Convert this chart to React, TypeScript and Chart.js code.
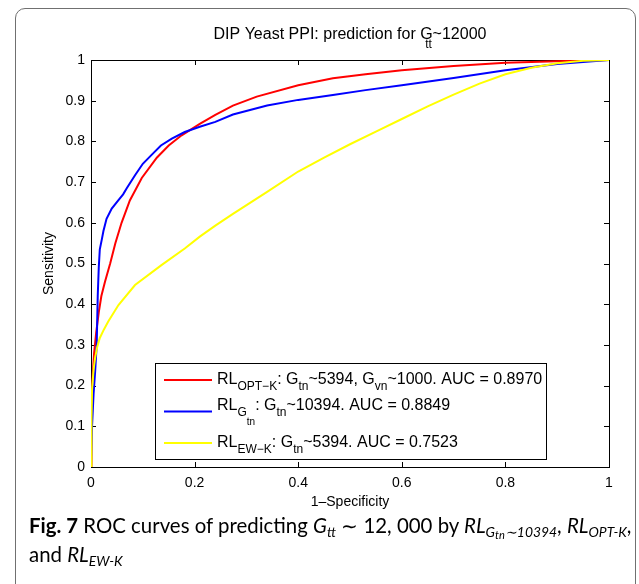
import React, { useEffect, useRef } from 'react';
import { Chart, registerables } from 'chart.js';
Chart.register(...registerables);

// ---------- data ----------
const xTicks = [0, 0.2, 0.4, 0.6, 0.8, 1];
const yTicks = [0, 0.1, 0.2, 0.3, 0.4, 0.5, 0.6, 0.7, 0.8, 0.9, 1];

const optKFpr = [0, 0.001, 0.003, 0.006, 0.01, 0.015, 0.02, 0.027, 0.037, 0.047, 0.059, 0.075, 0.098, 0.127, 0.15, 0.175, 0.21, 0.24, 0.274, 0.32, 0.4, 0.467, 0.53, 0.6, 0.7, 0.8, 0.9, 1];
const optKTpr = [0, 0.15, 0.22, 0.28, 0.33, 0.38, 0.42, 0.455, 0.5, 0.55, 0.6, 0.655, 0.71, 0.76, 0.79, 0.815, 0.843, 0.865, 0.888, 0.91, 0.938, 0.955, 0.965, 0.975, 0.985, 0.993, 0.997, 1];

const gtnFpr = [0, 0.002, 0.005, 0.008, 0.011, 0.013, 0.015, 0.017, 0.021, 0.024, 0.03, 0.04, 0.053, 0.062, 0.069, 0.085, 0.1, 0.117, 0.135, 0.156, 0.181, 0.21, 0.24, 0.274, 0.34, 0.4, 0.467, 0.53, 0.6, 0.7, 0.8, 0.9, 1];
const gtnTpr = [0, 0.1, 0.18, 0.235, 0.3, 0.42, 0.49, 0.535, 0.56, 0.58, 0.61, 0.635, 0.656, 0.67, 0.685, 0.717, 0.745, 0.767, 0.79, 0.807, 0.823, 0.836, 0.848, 0.866, 0.888, 0.902, 0.914, 0.926, 0.938, 0.956, 0.975, 0.99, 1];

const ewKFpr = [0, 0.001, 0.002, 0.005, 0.008, 0.012, 0.017, 0.025, 0.033, 0.053, 0.085, 0.136, 0.181, 0.21, 0.24, 0.274, 0.34, 0.4, 0.45, 0.5, 0.55, 0.6, 0.65, 0.7, 0.75, 0.8, 0.85, 0.9, 0.95, 1];
const ewKTpr = [0, 0.12, 0.19, 0.24, 0.268, 0.295, 0.317, 0.338, 0.357, 0.398, 0.447, 0.496, 0.537, 0.566, 0.593, 0.622, 0.676, 0.726, 0.76, 0.793, 0.824, 0.855, 0.886, 0.915, 0.942, 0.965, 0.981, 0.992, 0.998, 1];

type Seg = [string, number];
const legendRed: Seg[] = [['RL', 0], ['OPT\u2212K', 1], [': G', 0], ['tn', 1], ['~5394, G', 0], ['vn', 1], ['~1000. AUC = 0.8970', 0]];
const legendBlue: Seg[] = [['RL', 0], ['G', 1], ['tn', 2], [': G', 0], ['tn', 1], ['~10394. AUC = 0.8849', 0]];
const legendYellow: Seg[] = [['RL', 0], ['EW\u2212K', 1], [': G', 0], ['tn', 1], ['~5394. AUC = 0.7523', 0]];

const W = 639;
const H = 515;
const FONT = '"Liberation Sans", Arial, Helvetica, sans-serif';

function toPts(xs: number[], ys: number[]) {
  return xs.map((x, i) => ({ x, y: ys[i] }));
}

function drawRich(ctx: CanvasRenderingContext2D, segs: Seg[], x: number, y: number) {
  const sizes = [16, 12, 10];
  const offs = [0, 6, 15];
  let cx = x;
  for (const [t, lvl] of segs) {
    ctx.font = `${sizes[lvl]}px ${FONT}`;
    ctx.fillText(t, cx, y + offs[lvl]);
    cx += ctx.measureText(t).width;
  }
}

const matlabPlugin = {
  id: 'matlabDeco',
  beforeDatasetsDraw(chart: any) {
    const { ctx, chartArea: a, scales } = chart;
    ctx.save();
    ctx.strokeStyle = '#000';
    ctx.lineWidth = 1;
    ctx.strokeRect(Math.round(a.left) + 0.5, Math.round(a.top) + 0.5, Math.round(a.right - a.left), Math.round(a.bottom - a.top));
    const tl = 5;
    ctx.beginPath();
    for (const v of xTicks) {
      const px = Math.round(scales.x.getPixelForValue(v)) + 0.5;
      ctx.moveTo(px, a.bottom);
      ctx.lineTo(px, a.bottom - tl);
      ctx.moveTo(px, a.top);
      ctx.lineTo(px, a.top + tl);
    }
    for (const v of yTicks) {
      const py = Math.round(scales.y.getPixelForValue(v)) + 0.5;
      ctx.moveTo(a.left, py);
      ctx.lineTo(a.left + tl, py);
      ctx.moveTo(a.right, py);
      ctx.lineTo(a.right - tl, py);
    }
    ctx.stroke();
    ctx.restore();
  },
  afterDraw(chart: any) {
    const { ctx, chartArea: a } = chart;
    ctx.save();
    ctx.fillStyle = '#000';
    ctx.textBaseline = 'alphabetic';
    // title
    const cx = (a.left + a.right) / 2;
    ctx.font = `16px ${FONT}`;
    const t1 = 'DIP Yeast PPI: prediction for ';
    const t2 = 'G';
    const t3 = '~12000';
    const w1 = ctx.measureText(t1).width;
    const w2 = ctx.measureText(t2).width;
    const w3 = ctx.measureText(t3).width;
    const tx = cx - (w1 + w2 + w3) / 2;
    const ty = 38.5;
    ctx.textAlign = 'left';
    ctx.fillText(t1, tx, ty);
    ctx.fillText(t2, tx + w1, ty);
    ctx.fillText(t3, tx + w1 + w2, ty);
    ctx.font = `12px ${FONT}`;
    ctx.fillText('tt', tx + w1 + 5, ty + 9.5);

    // axis labels
    ctx.font = `14px ${FONT}`;
    ctx.textAlign = 'center';
    ctx.fillText('1\u2013Specificity', cx, 506);
    ctx.save();
    ctx.translate(53, (a.top + a.bottom) / 2);
    ctx.rotate(-Math.PI / 2);
    ctx.fillText('Sensitivity', 0, 0);
    ctx.restore();

    // legend
    const lx = 155.5, ly = 363.5, lw = 391, lh = 96;
    ctx.fillStyle = '#fff';
    ctx.fillRect(lx, ly, lw, lh);
    ctx.strokeStyle = '#000';
    ctx.lineWidth = 1;
    ctx.strokeRect(lx, ly, lw, lh);
    const rows: [string, Seg[], number, number][] = [
      ['#ff0000', legendRed, 380, 383.5],
      ['#0000ff', legendBlue, 411.5, 410],
      ['#ffff00', legendYellow, 443, 446.5],
    ];
    ctx.textAlign = 'left';
    for (const [col, segs, lineY, baseY] of rows) {
      ctx.strokeStyle = col;
      ctx.lineWidth = 2;
      ctx.beginPath();
      ctx.moveTo(164, lineY);
      ctx.lineTo(212, lineY);
      ctx.stroke();
      ctx.fillStyle = '#000';
      drawRich(ctx, segs, 217, baseY);
    }
    ctx.restore();
  },
};

export default function App() {
  const ref = useRef<HTMLCanvasElement | null>(null);
  useEffect(() => {
    if (!ref.current) return;
    const tickFont = { family: FONT, size: 14 };
    const chart = new Chart(ref.current, {
      type: 'scatter',
      data: {
        datasets: [
          { label: 'OPT-K', data: toPts(optKFpr, optKTpr), borderColor: '#ff0000', order: 3 },
          { label: 'Gtn', data: toPts(gtnFpr, gtnTpr), borderColor: '#0000ff', order: 2 },
          { label: 'EW-K', data: toPts(ewKFpr, ewKTpr), borderColor: '#ffff00', order: 1 },
        ].map((d) => ({ ...d, showLine: true, pointRadius: 0, borderWidth: 2, tension: 0, fill: false, backgroundColor: d.borderColor })),
      },
      options: {
        animation: false,
        responsive: false,
        layout: { padding: { left: 0, right: 30, top: 60, bottom: 0 } },
        plugins: { legend: { display: false }, title: { display: false }, tooltip: { enabled: false } },
        scales: {
          x: {
            type: 'linear', min: 0, max: 1,
            afterBuildTicks: (s: any) => { s.ticks = xTicks.map((v) => ({ value: v })); },
            afterFit: (s: any) => { s.height = H - 467; },
            grid: { display: false, drawTicks: false },
            border: { display: false },
            ticks: { font: tickFont, color: '#000', padding: 8, maxRotation: 0, autoSkip: false, callback: (v: any) => String(v) },
          },
          y: {
            type: 'linear', min: 0, max: 1,
            afterBuildTicks: (s: any) => { s.ticks = yTicks.map((v) => ({ value: v })); },
            afterFit: (s: any) => { s.width = 91; },
            grid: { display: false, drawTicks: false },
            border: { display: false },
            ticks: { font: tickFont, color: '#000', padding: 6, autoSkip: false, callback: (v: any) => String(v) },
          },
        },
      },
      plugins: [matlabPlugin],
    } as any);
    return () => chart.destroy();
  }, []);

  const sub: React.CSSProperties = { fontSize: '0.68em', position: 'relative', top: '0.28em', lineHeight: 0 };
  const sub2: React.CSSProperties = { fontSize: '0.8em', position: 'relative', top: '0.2em', lineHeight: 0 };

  return (
    <div style={{ position: 'fixed', left: 0, top: 0, width: W, height: 584, overflow: 'hidden', background: '#fff' }}>
      <div style={{ position: 'absolute', left: 15, top: 8, width: 621, height: 700, border: '1.5px solid #707070', borderRadius: 10, boxSizing: 'border-box' }} />
      <canvas ref={ref} width={W} height={H} style={{ position: 'absolute', left: 0, top: 0, width: W, height: H }} />
      <div style={{ position: 'absolute', left: 29, top: 511, fontFamily: 'Lato, "Noto Sans", sans-serif', fontSize: 20.4, lineHeight: '29px', whiteSpace: 'nowrap', color: '#000' }}>
        <b>Fig. 7</b> ROC curves of predicting <i>G<span style={sub}>tt</span></i> ∼ 12, 000 by <i>RL<span style={sub}>G<span style={sub2}>tn</span>∼10394</span></i>, <i>RL<span style={sub}>OPT-K</span></i>,
        <br />
        and <i>RL<span style={sub}>EW-K</span></i>
      </div>
    </div>
  );
}
